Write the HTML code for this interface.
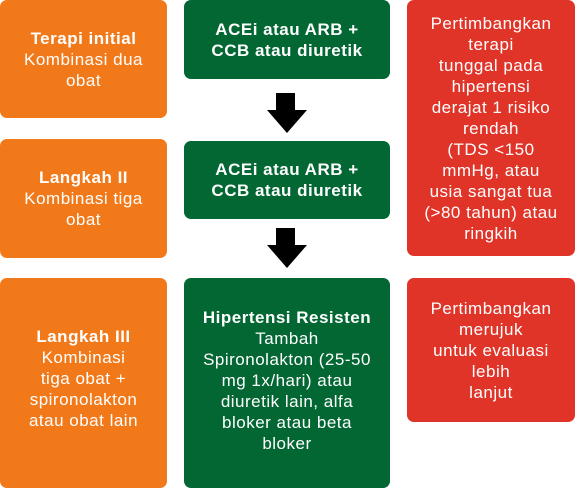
<!DOCTYPE html>
<html><head><meta charset="utf-8"><style>
html,body{margin:0;padding:0;background:#fff;width:575px;height:480px;overflow:hidden}
.b{position:absolute;display:flex;align-items:center;justify-content:center;text-align:center;color:#fff;font-family:"Liberation Sans",sans-serif;font-size:17px;letter-spacing:0.5px;line-height:21px;border-radius:7px;box-sizing:border-box;padding:0 3px;white-space:nowrap}
.o{background:#F2791A}.g{background:#036733}.r{background:#E03428}
b{font-weight:bold}
.sh{position:absolute;background:#000}
.hd{position:absolute;width:0;height:0;border-left:20px solid transparent;border-right:20px solid transparent;border-top:23px solid #000}
</style></head><body>
<div class="b o" style="left:0;top:0;width:167px;height:118px"><div><b>Terapi initial</b><br>Kombinasi dua<br>obat</div></div>
<div class="b g" style="left:184px;top:0;width:206px;height:79px"><div><b>ACEi atau ARB +<br>CCB atau diuretik</b></div></div>
<div class="b r" style="left:407px;top:0;width:168px;height:256px"><div>Pertimbangkan<br>terapi<br>tunggal pada<br>hipertensi<br>derajat 1 risiko<br>rendah<br>(TDS &lt;150<br>mmHg, atau<br>usia sangat tua<br>(&gt;80 tahun) atau<br>ringkih</div></div>
<div class="sh" style="left:276px;top:93px;width:19px;height:18px"></div>
<div class="hd" style="left:267px;top:110px"></div>
<div class="b o" style="left:0;top:139px;width:167px;height:119px"><div><b>Langkah II</b><br>Kombinasi tiga<br>obat</div></div>
<div class="b g" style="left:184px;top:141px;width:206px;height:78px"><div><b>ACEi atau ARB +<br>CCB atau diuretik</b></div></div>
<div class="sh" style="left:276px;top:228px;width:19px;height:18px"></div>
<div class="hd" style="left:267px;top:245px"></div>
<div class="b o" style="left:0;top:278px;width:167px;height:210px;align-items:flex-start;padding-top:48px"><div><b>Langkah III</b><br>Kombinasi<br>tiga obat +<br>spironolakton<br>atau obat lain</div></div>
<div class="b g" style="left:184px;top:278px;width:206px;height:210px;align-items:flex-start;padding-top:29px"><div><b>Hipertensi Resisten</b><br>Tambah<br>Spironolakton (25-50<br>mg 1x/hari) atau<br>diuretik lain, alfa<br>bloker atau beta<br>bloker</div></div>
<div class="b r" style="left:407px;top:278px;width:168px;height:144px;align-items:flex-start;padding-top:20px"><div>Pertimbangkan<br>merujuk<br>untuk evaluasi<br>lebih<br>lanjut</div></div>
</body></html>
